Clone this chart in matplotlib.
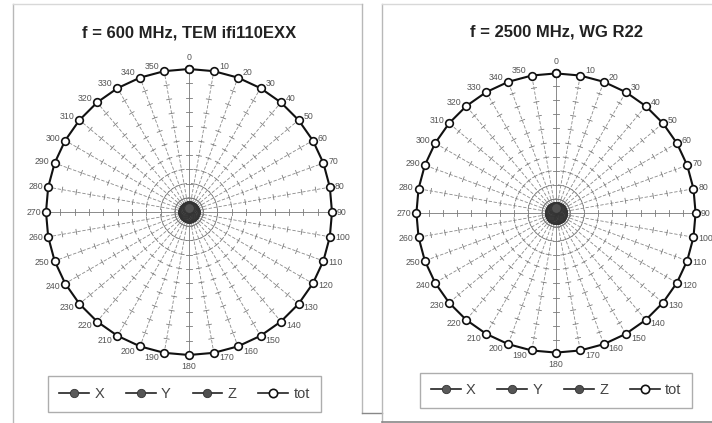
import numpy as np
import matplotlib
matplotlib.use("Agg")
import matplotlib.pyplot as plt
from matplotlib.lines import Line2D

# ---- data ----
angles_deg = list(range(0, 360, 10))
angle_labels = [str(a) for a in angles_deg]

titles = ["f = 600 MHz, TEM ifi110EXX", "f = 2500 MHz, WG R22"]

# normalised field components
tot_600 = [1.0] * 36
x_600 = [0.04] * 36
y_600 = [0.035] * 36
z_600 = [0.03] * 36

tot_2500 = [0.99] * 36
x_2500 = [0.045] * 36
y_2500 = [0.04] * 36
z_2500 = [0.035] * 36

series_names = ["X", "Y", "Z", "tot"]

W, H = 712, 423
fig = plt.figure(figsize=(W / 100, H / 100), dpi=100)
fig.patch.set_facecolor("white")

plt.rcParams["font.family"] = ["Liberation Sans", "DejaVu Sans"]

def px_rect(x0, y0, w, h):
    return [x0 / W, 1 - (y0 + h) / H, w / W, h / H]

# frames
frame_ax = fig.add_axes([0, 0, 1, 1])
frame_ax.set_xlim(0, W)
frame_ax.set_ylim(H, 0)
frame_ax.axis("off")
fc = "#b8b8b8"
frame_ax.plot([13, 13], [4, 423], color=fc, lw=1)
frame_ax.plot([13, 362], [4, 4], color="#d8d8d8", lw=1)
frame_ax.plot([362, 362], [4, 413], color=fc, lw=1)
frame_ax.plot([362, 382], [413, 413], color="#888888", lw=1)
frame_ax.plot([382, 382], [4, 422], color=fc, lw=1)
frame_ax.plot([382, 712], [4, 4], color="#d8d8d8", lw=1)
frame_ax.plot([382, 712], [422, 422], color="#888888", lw=1.2)

panels = [
    dict(cx=189, cy=212, r=143, title=titles[0], ty=33,
         tot=tot_600, comps=[x_600, y_600, z_600],
         leg=(184.5, 394)),
    dict(cx=556, cy=213, r=141, title=titles[1], ty=32,
         tot=tot_2500, comps=[x_2500, y_2500, z_2500],
         leg=(556, 390.5)),
]

theta = np.deg2rad(angles_deg)
grid_c = "#8a8a8a"
comp_colors = ["#5a5a5a", "#555555", "#505050"]

for p in panels:
    ax = fig.add_axes(px_rect(p["cx"] - p["r"], p["cy"] - p["r"], 2 * p["r"], 2 * p["r"]),
                      projection="polar")
    ax.set_theta_zero_location("N")
    ax.set_theta_direction(-1)
    ax.set_ylim(0, 1.0)
    ax.grid(False)
    ax.set_xticks([])
    ax.set_yticks([])
    ax.spines["polar"].set_visible(False)
    ax.patch.set_alpha(0)

    # spokes
    for a in angles_deg:
        t = np.deg2rad(a)
        if a % 90 == 0:
            ax.plot([t, t], [0, 1], color=grid_c, lw=0.7, zorder=1)
        else:
            ax.plot([t, t], [0, 1], color=grid_c, lw=0.6, ls=(0, (4, 2)), zorder=1)
        # tick marks along spoke
        for rr in np.arange(0.1, 1.0, 0.1):
            half = 0.018 / rr
            ax.plot([t - half, t + half], [rr, rr], color="#7a7a7a", lw=0.6, zorder=1)

    # components
    for vals, c in zip(p["comps"], comp_colors):
        v = list(vals) + [vals[0]]
        tt = list(theta) + [theta[0]]
        ax.plot(tt, v, color="#222222", lw=1, marker="o", ms=7,
                mfc=c, mec="#333333", mew=0.6, zorder=3)

    # total
    v = list(p["tot"]) + [p["tot"][0]]
    tt = list(theta) + [theta[0]]
    ax.plot(tt, v, color="#111111", lw=1.5, marker="o", ms=5.5,
            mfc="white", mec="#111111", mew=1.2, zorder=4, clip_on=False)

    # angle labels
    for a, lab, val in zip(angles_deg, angle_labels, p["tot"]):
        t = np.deg2rad(a)
        s, c = np.sin(t), np.cos(t)
        if a == 0:
            ha, va, dx, dy = "center", "bottom", 0, 7
        elif a == 180:
            ha, va, dx, dy = "center", "top", 0, -7
        else:
            ha = "left" if s > 0 else "right"
            va = "center"
            dx = 5 if s > 0 else -5
            dy = 5 * c
        ax.annotate(lab, xy=(t, val), xytext=(dx, dy), textcoords="offset pixels",
                    ha=ha, va=va, fontsize=6.3, color="#555555",
                    annotation_clip=False, zorder=5)

    fig.text(p["cx"] / W, 1 - p["ty"] / H, p["title"], ha="center", va="center",
             fontsize=12, fontweight="bold", color="#222222")

    handles = []
    for name, c in zip(series_names[:3], comp_colors):
        handles.append(Line2D([], [], color="#222222", lw=1.2, marker="o", ms=6,
                              mfc=c, mec="#333333", mew=0.6, label=name))
    handles.append(Line2D([], [], color="#222222", lw=1.2, marker="o", ms=6,
                          mfc="white", mec="#111111", mew=1.2, label="tot"))
    leg = fig.legend(handles=handles, loc="center", ncol=4,
                     bbox_to_anchor=(p["leg"][0] / W, 1 - p["leg"][1] / H),
                     fontsize=10.5, handlelength=2.05, handletextpad=0.35,
                     columnspacing=1.5, frameon=True, fancybox=False,
                     borderpad=0.75)
    leg.get_frame().set_edgecolor("#999999")
    leg.get_frame().set_linewidth(1)
    for txt in leg.get_texts():
        txt.set_color("#444444")

fig.savefig("out.png", dpi=100, facecolor="white")
